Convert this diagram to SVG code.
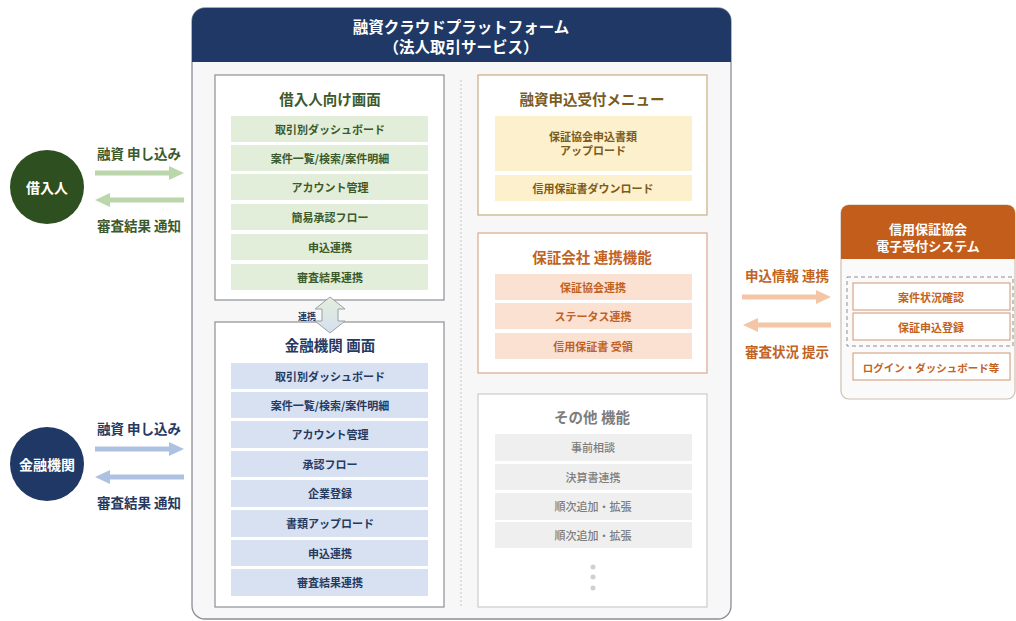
<svg xmlns="http://www.w3.org/2000/svg" width="1016" height="621" viewBox="0 0 1016 621">
<defs>
<style>
text{font-family:"Noto Sans CJK JP","Noto Sans",sans-serif;text-anchor:middle;dominant-baseline:central;font-weight:700}
.pt{font-size:14.5px}
.it{font-size:11px}
.sl{font-size:13.5px}
.panel{fill:#ffffff;stroke:#8c8f94;stroke-width:1.2}
.gi{fill:#e2eed9}
.bi{fill:#d7e1f1}
.yi{fill:#fdf0cc}
.oi{fill:#fbe1d1}
.ki{fill:#efefef}
.g{fill:#3b5a2c}
.b{fill:#26395f}
.y{fill:#7a5b1c}
.o{fill:#c2621f}
.k{fill:#7d7d7d}
</style>
<linearGradient id="dg" x1="0" y1="0" x2="0" y2="1">
<stop offset="0" stop-color="#e3eedb"/>
<stop offset="1" stop-color="#d5dfef"/>
</linearGradient>
</defs>
<rect width="1016" height="621" fill="#ffffff"/>

<g id="platform">
<rect x="192" y="8" width="539" height="611" rx="13" fill="#f7f7f8" stroke="#8a8e96" stroke-width="1.3"/>
<path d="M192 62 V21 A13 13 0 0 1 205 8 H718 A13 13 0 0 1 731 21 V62 Z" fill="#1f3865"/>
<text x="461" y="26" fill="#ffffff" style="font-size:15.5px">融資クラウドプラットフォーム</text>
<text x="461" y="46" fill="#ffffff" style="font-size:15.5px">（法人取引サービス）</text>
<line x1="461" y1="80" x2="461" y2="607" stroke="#c4c6ca" stroke-width="1" stroke-dasharray="2 2"/>
</g>

<g id="borrower-screen">
<rect class="panel" x="215" y="75" width="229" height="225"/>
<text class="pt g" x="330" y="98">借入人向け画面</text>
<rect class="gi" x="231" y="116" width="197" height="26"/><text class="it g" x="330" y="129">取引別ダッシュボード</text>
<rect class="gi" x="231" y="145" width="197" height="26"/><text class="it g" x="330" y="158">案件一覧/検索/案件明細</text>
<rect class="gi" x="231" y="174" width="197" height="26"/><text class="it g" x="330" y="187">アカウント管理</text>
<rect class="gi" x="231" y="204" width="197" height="26"/><text class="it g" x="330" y="217">簡易承認フロー</text>
<rect class="gi" x="231" y="234" width="197" height="26"/><text class="it g" x="330" y="247">申込連携</text>
<rect class="gi" x="231" y="264" width="197" height="26"/><text class="it g" x="330" y="277">審査結果連携</text>
</g>

<g id="bank-screen">
<rect class="panel" x="215" y="322" width="229" height="285"/>
<text class="pt b" x="330" y="344">金融機関 画面</text>
<rect class="bi" x="231" y="363" width="197" height="26"/><text class="it b" x="330" y="376">取引別ダッシュボード</text>
<rect class="bi" x="231" y="392" width="197" height="26"/><text class="it b" x="330" y="405">案件一覧/検索/案件明細</text>
<rect class="bi" x="231" y="421" width="197" height="27"/><text class="it b" x="330" y="434">アカウント管理</text>
<rect class="bi" x="231" y="451" width="197" height="26"/><text class="it b" x="330" y="464">承認フロー</text>
<rect class="bi" x="231" y="480" width="197" height="27"/><text class="it b" x="330" y="493">企業登録</text>
<rect class="bi" x="231" y="510" width="197" height="27"/><text class="it b" x="330" y="523">書類アップロード</text>
<rect class="bi" x="231" y="540" width="197" height="26"/><text class="it b" x="330" y="553">申込連携</text>
<rect class="bi" x="231" y="569" width="197" height="27"/><text class="it b" x="330" y="582">審査結果連携</text>
</g>

<g id="link-arrow">
<path d="M330 297 L345 309 L338 309 L338 321 L345 321 L330 333 L315 321 L322 321 L322 309 L315 309 Z" fill="url(#dg)" stroke="#9aa0a6" stroke-width="1"/>
<text x="307" y="316" class="b" style="font-size:9px">連携</text>
</g>

<g id="loan-menu">
<rect x="478" y="75" width="229" height="140" fill="#ffffff" stroke="#c9ad82" stroke-width="1.2"/>
<text class="pt y" x="592" y="98">融資申込受付メニュー</text>
<rect class="yi" x="495" y="116" width="197" height="55"/>
<text class="it y" x="593" y="136">保証協会申込書類</text>
<text class="it y" x="593" y="150">アップロード</text>
<rect class="yi" x="495" y="175" width="197" height="26"/><text class="it y" x="593" y="188">信用保証書ダウンロード</text>
</g>

<g id="guarantee-link">
<rect x="478" y="233" width="229" height="140" fill="#ffffff" stroke="#d9a98c" stroke-width="1.2"/>
<text class="pt o" x="592" y="256">保証会社 連携機能</text>
<rect class="oi" x="495" y="274" width="197" height="26"/><text class="it o" x="593" y="287">保証協会連携</text>
<rect class="oi" x="495" y="303" width="197" height="26"/><text class="it o" x="593" y="316">ステータス連携</text>
<rect class="oi" x="495" y="333" width="197" height="26"/><text class="it o" x="593" y="346">信用保証書 受領</text>
</g>

<g id="other-functions">
<rect x="478" y="394" width="229" height="213" fill="#ffffff" stroke="#c9ccd1" stroke-width="1.2"/>
<text class="pt k" x="592" y="416">その他 機能</text>
<rect class="ki" x="495" y="434" width="197" height="27"/><text class="it k" x="593" y="447" style="font-weight:500">事前相談</text>
<rect class="ki" x="495" y="464" width="197" height="26"/><text class="it k" x="593" y="477" style="font-weight:500">決算書連携</text>
<rect class="ki" x="495" y="493" width="197" height="27"/><text class="it k" x="593" y="506" style="font-weight:500">順次追加・拡張</text>
<rect class="ki" x="495" y="522" width="197" height="26"/><text class="it k" x="593" y="535" style="font-weight:500">順次追加・拡張</text>
<circle cx="593" cy="567" r="2.5" fill="#d0d0d0"/>
<circle cx="593" cy="577" r="2.5" fill="#d0d0d0"/>
<circle cx="593" cy="588" r="2.5" fill="#d0d0d0"/>
</g>

<g id="borrower">
<circle cx="47" cy="187" r="37" fill="#2e5020"/>
<text x="47" y="187" fill="#ffffff" style="font-size:14px">借入人</text>
</g>

<g id="bank">
<circle cx="47" cy="464" r="37" fill="#1f3865"/>
<text x="47" y="464" fill="#ffffff" style="font-size:14px">金融機関</text>
</g>

<g id="guarantee-system">
<rect x="841" y="205" width="174" height="194" rx="8" fill="#fafafa" stroke="#cdbfb2" stroke-width="1.2"/>
<path d="M841 259 V213 A8 8 0 0 1 849 205 H1007 A8 8 0 0 1 1015 213 V259 Z" fill="#c35d1c"/>
<text x="928" y="228" fill="#ffffff" style="font-size:13px">信用保証協会</text>
<text x="928" y="245" fill="#ffffff" style="font-size:13px">電子受付システム</text>
<rect x="847" y="277" width="166" height="69" fill="none" stroke="#8f8f8f" stroke-width="1" stroke-dasharray="4 3"/>
<rect x="853" y="283" width="157" height="27" fill="#ffffff" stroke="#cf9670" stroke-width="1"/>
<text class="it o" x="931" y="297">案件状況確認</text>
<rect x="853" y="313" width="157" height="27" fill="#ffffff" stroke="#cf9670" stroke-width="1"/>
<text class="it o" x="931" y="327">保証申込登録</text>
<rect x="853" y="353" width="157" height="27" fill="#ffffff" stroke="#cf9670" stroke-width="1"/>
<text class="o" x="931" y="367" style="font-size:10.5px">ログイン・ダッシュボード等</text>
</g>

<g id="connectors">
<path d="M95 173 H171" stroke="#bcd6ab" stroke-width="5"/>
<polygon points="169,166 184,173 169,180" fill="#bcd6ab"/>
<path d="M108 200 H184" stroke="#bcd6ab" stroke-width="5"/>
<polygon points="110,193 95,200 110,207" fill="#bcd6ab"/>
<text class="sl g" x="139" y="153">融資 申し込み</text>
<text class="sl g" x="139" y="225">審査結果 通知</text>

<path d="M95 449 H171" stroke="#adc2e3" stroke-width="5"/>
<polygon points="169,442 184,449 169,456" fill="#adc2e3"/>
<path d="M108 477 H184" stroke="#adc2e3" stroke-width="5"/>
<polygon points="110,470 95,477 110,484" fill="#adc2e3"/>
<text class="sl b" x="139" y="428">融資 申し込み</text>
<text class="sl b" x="139" y="502">審査結果 通知</text>

<path d="M742 297 H818" stroke="#f5c6a6" stroke-width="5"/>
<polygon points="816,290 831,297 816,304" fill="#f5c6a6"/>
<path d="M756 325 H831" stroke="#f5c6a6" stroke-width="5"/>
<polygon points="758,318 743,325 758,332" fill="#f5c6a6"/>
<text class="sl o" x="787" y="275">申込情報 連携</text>
<text class="sl o" x="787" y="351">審査状況 提示</text>
</g>
</svg>
